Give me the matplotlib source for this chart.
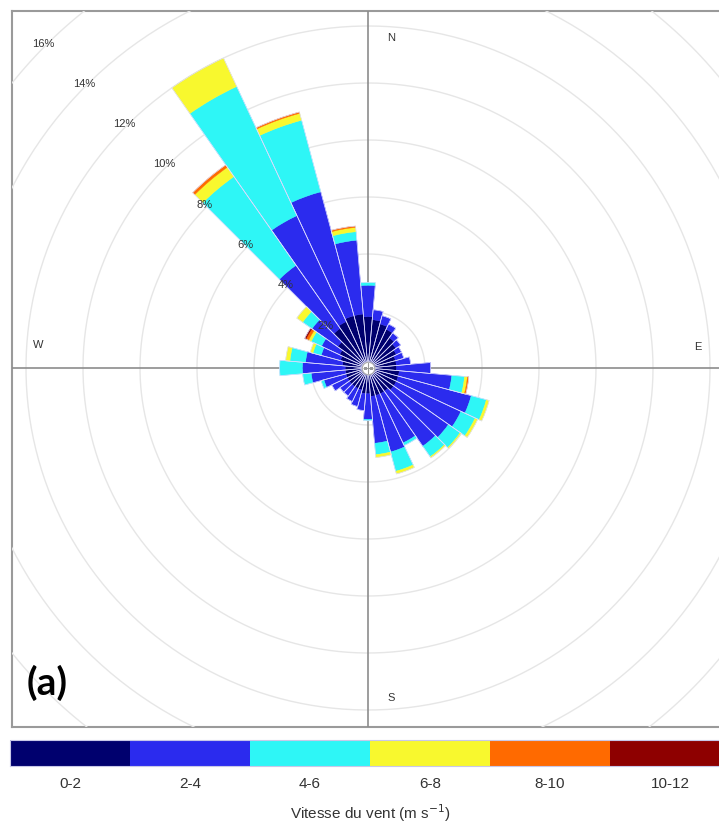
import numpy as np
import matplotlib as mpl
import matplotlib.pyplot as plt
from matplotlib.colors import ListedColormap, BoundaryNorm

plt.rcParams['font.family'] = ['Liberation Sans', 'DejaVu Sans']

# wind direction bins (deg, clockwise from north)
directions = [0, 10, 20, 30, 40, 50, 60, 70, 80, 90, 100, 110,
              120, 130, 140, 150, 160, 170, 180, 190, 200, 210, 220, 230,
              240, 250, 260, 270, 280, 290, 300, 310, 320, 330, 340, 350]

speed_labels = ['0-2', '2-4', '4-6', '6-8', '8-10', '10-12']
speed_edges = [0, 2, 4, 6, 8, 10, 12]
speed_colors = ['#00006e', '#2b2bee', '#2ef6f6', '#f8f82e', '#ff6a00', '#8e0000']

# frequency (%) per direction for each speed class
freq_0_2 = [1.8, 1.7, 1.6, 1.5, 1.3, 1.2, 1.1, 1.0, 1.0, 1.0, 1.1, 1.1,
            1.1, 1.1, 1.0, 1.0, 1.0, 1.0, 0.9, 0.9, 0.8, 0.8, 0.8, 0.8,
            0.8, 0.8, 0.8, 0.8, 0.9, 1.0, 1.1, 1.3, 1.7, 1.8, 1.9, 1.9]
freq_2_4 = [1.1, 0.35, 0.3, 0.2, 0.2, 0.2, 0.2, 0.3, 0.5, 1.2, 1.85, 2.65,
            2.5, 2.35, 2.35, 1.9, 2.05, 1.65, 0.9, 0.6, 0.6, 0.5, 0.4, 0.4,
            0.6, 0.8, 1.2, 1.5, 1.3, 0.7, 0.7, 1.1, 2.7, 4.1, 4.5, 2.6]
freq_4_6 = [0.1, 0, 0, 0, 0, 0, 0, 0, 0, 0, 0.45, 0.55,
            0.55, 0.5, 0.45, 0.1, 0.7, 0.4, 0.05, 0, 0, 0, 0, 0,
            0, 0.1, 0.3, 0.8, 0.55, 0.3, 0.4, 0.4, 3.8, 5.0, 2.6, 0.3]
freq_6_8 = [0, 0, 0, 0, 0, 0, 0, 0, 0, 0, 0.1, 0.1,
            0.1, 0.05, 0.05, 0, 0.1, 0.1, 0, 0, 0, 0, 0, 0,
            0, 0, 0, 0, 0.15, 0.1, 0.1, 0.25, 0.4, 1.1, 0.25, 0.15]
freq_8_10 = [0, 0, 0, 0, 0, 0, 0, 0, 0, 0, 0.05, 0,
             0, 0, 0, 0, 0, 0, 0, 0, 0, 0, 0, 0,
             0, 0, 0, 0, 0, 0, 0.1, 0, 0.1, 0, 0.05, 0.05]
freq_10_12 = [0, 0, 0, 0, 0, 0, 0, 0, 0, 0, 0, 0,
              0, 0, 0, 0, 0, 0, 0, 0, 0, 0, 0, 0,
              0, 0, 0, 0, 0, 0, 0.05, 0, 0, 0, 0, 0]

ring_levels = [2, 4, 6, 8, 10, 12, 14, 16]

W, H = 719, 832
fig = plt.figure(figsize=(W / 100, H / 100), dpi=100)

# rectangular frame around the rose
frame = fig.add_axes([12 / W, 1 - 727 / H, 714 / W, 716 / H])
frame.set_xticks([])
frame.set_yticks([])
for s in frame.spines.values():
    s.set_color('#9a9a9a')
    s.set_linewidth(1.5)

# polar axes, bigger than the frame, clipped to it
px_per_pct = 28.5
cx, cy = 368, 368
rmax = 19
R = rmax * px_per_pct
ax = fig.add_axes([(cx - R) / W, 1 - (cy + R) / H, 2 * R / W, 2 * R / H],
                  projection='polar')
ax.set_theta_zero_location('N')
ax.set_theta_direction(-1)
ax.set_ylim(0, rmax)
ax.patch.set_visible(False)
ax.spines['polar'].set_visible(False)
ax.grid(False)
ax.set_xticks([])
ax.set_yticks([])

clipped = []
circle_t = np.linspace(0, 2 * np.pi, 400)
for lev in ring_levels:
    clipped += ax.plot(circle_t, np.full_like(circle_t, lev), color='#e6e6e6', lw=1, zorder=1)
for ang in [0, 90, 180, 270]:
    clipped += ax.plot([np.deg2rad(ang)] * 2, [0, rmax], color='#8c8c8c', lw=1.2, zorder=2)

theta = np.deg2rad(directions)
width = np.deg2rad(10)
classes = [freq_0_2, freq_2_4, freq_4_6, freq_6_8, freq_8_10, freq_10_12]
bottom = np.zeros(len(directions))
for vals, col in zip(classes, speed_colors):
    vals = np.array(vals, dtype=float)
    m = vals > 0
    bars = ax.bar(theta[m], vals[m], width=width, bottom=bottom[m], color=col,
                  edgecolor=col, linewidth=0.3, zorder=3)
    clipped += list(bars)
    bottom += vals
outline = ax.bar(theta, bottom, width=width, fill=False, edgecolor='#dcdcff',
                 linewidth=0.5, zorder=4)
clipped += list(outline)

for art in clipped:
    art.set_clip_box(frame.bbox)

ax.plot([0], [0], 'o', ms=9, mfc='white', mec='#aaaaaa', mew=0.8, zorder=6)
ax.plot([0], [0], '+', ms=7, color='#999999', mew=0.8, zorder=7)

for lev in ring_levels:
    ax.text(np.deg2rad(315), lev + 0.1, f'{lev}%', ha='center', va='center',
            fontsize=8, color='#333333', zorder=8)

for name, ang in [('N', 4), ('E', 86.4), ('S', 176), ('W', 274)]:
    ax.text(np.deg2rad(ang), 11.6, name, ha='center', va='center',
            fontsize=8, color='#333333', zorder=8)

fig.text(47 / W, 1 - 683 / H, '(a)', fontsize=28, fontweight='bold',
         family=['Lato', 'DejaVu Sans'], ha='center', va='center')

# colour legend
cmap = ListedColormap(speed_colors)
norm = BoundaryNorm(speed_edges, cmap.N)
cax = fig.add_axes([10 / W, 1 - 766 / H, 720 / W, 26 / H])
centers = [(a + b) / 2 for a, b in zip(speed_edges[:-1], speed_edges[1:])]
cb = fig.colorbar(mpl.cm.ScalarMappable(norm=norm, cmap=cmap), cax=cax,
                  orientation='horizontal', ticks=centers)
cb.set_ticklabels(speed_labels)
cb.ax.minorticks_off()
cb.ax.tick_params(which='both', length=0, labelsize=11, colors='#333333', pad=8)
cb.outline.set_edgecolor('#c8c8e8')
cb.outline.set_linewidth(0.8)
cb.set_label('Vitesse du vent (m s$^{-1}$)', fontsize=11, color='#333333', labelpad=8)

fig.savefig('out.png', dpi=100)
